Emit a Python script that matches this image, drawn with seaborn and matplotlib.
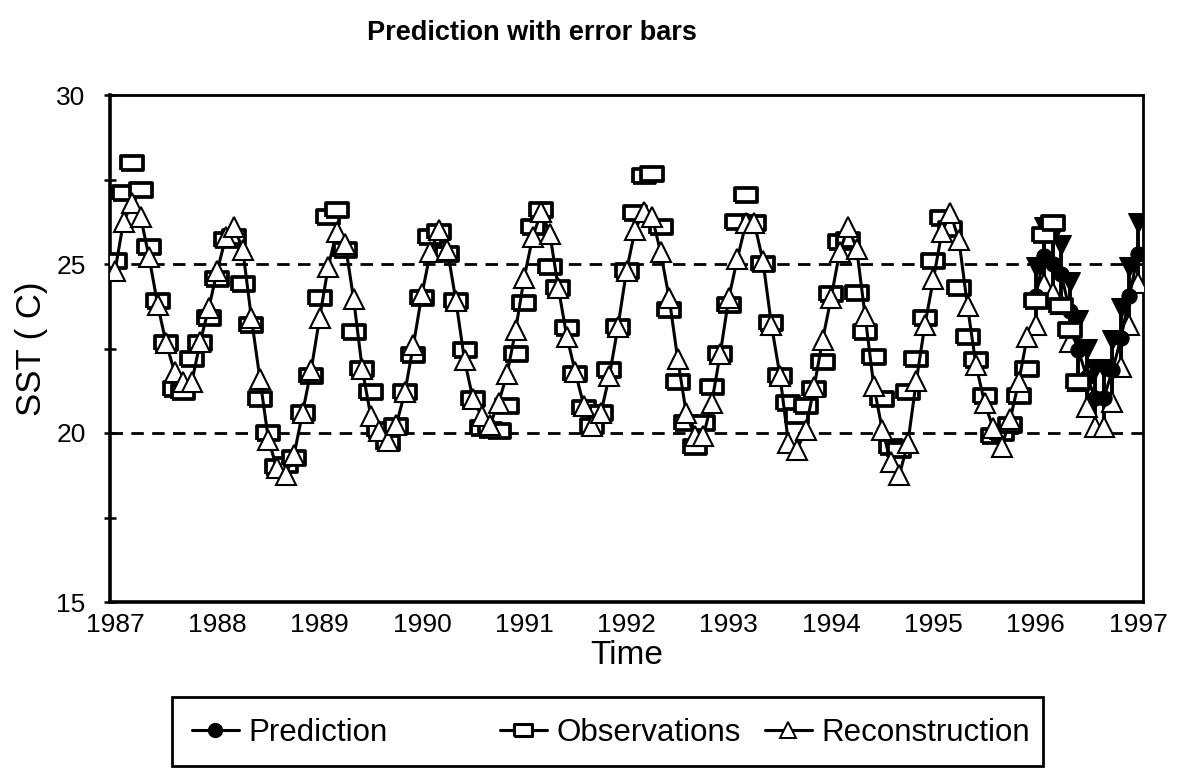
import numpy as np
import matplotlib
matplotlib.use("Agg")
import matplotlib.pyplot as plt
import seaborn as sns
from matplotlib.lines import Line2D
from matplotlib.patches import Rectangle

# ---------------- data (monthly) ----------------
start_year = 1987
pred_start = 1996
year_ticks = [1987, 1988, 1989, 1990, 1991, 1992, 1993, 1994, 1995, 1996, 1997]
y_major = [15, 20, 25, 30]
y_minor = [17.5, 22.5, 27.5]
ref_lines = [20, 25]

obs_values = [
    25.1, 27.1, 28.0, 27.2, 25.5, 23.9, 22.65, 21.3, 21.2, 22.2, 22.65, 23.4,      # 1987
    24.55, 25.7, 25.8, 24.4, 23.2, 21.0, 20.0, 19.0, 19.05, 19.25, 20.6, 21.7,     # 1988
    24.0, 26.4, 26.6, 25.4, 23.0, 21.9, 21.2, 20.1, 19.7, 20.2, 21.2, 22.3,        # 1989
    24.0, 25.8, 25.95, 25.3, 23.9, 22.45, 21.0, 20.15, 20.1, 20.05, 20.8, 22.35,   # 1990
    23.85, 26.1, 26.6, 24.9, 24.3, 23.1, 21.75, 20.75, 20.2, 20.6, 21.85, 23.15,   # 1991
    24.8, 26.5, 27.6, 27.65, 26.1, 23.65, 21.5, 20.3, 19.6, 20.3, 21.35, 22.35,    # 1992
    23.8, 26.25, 27.05, 26.2, 25.0, 23.25, 21.7, 20.9, 20.5, 20.8, 21.3, 22.1,     # 1993
    24.1, 25.65, 25.7, 24.15, 23.0, 22.25, 21.0, 19.6, 19.5, 21.2, 22.2, 23.4,     # 1994
    25.1, 26.35, 26.05, 24.3, 22.85, 22.15, 21.1, 19.9, 20.0, 20.25, 21.1, 21.9,   # 1995
    23.9, 25.85, 26.2, 23.75, 23.05, 21.5,                                         # 1996
]

rec_values = [
    24.8, 26.25, 26.8, 26.4, 25.2, 23.8, 22.65, 21.8, 21.5, 21.5, 22.7, 23.7,      # 1987
    24.8, 25.8, 26.1, 25.4, 23.4, 21.6, 19.8, 18.95, 18.75, 19.35, 20.6, 21.85,    # 1988
    23.4, 24.9, 25.95, 25.6, 23.95, 21.9, 20.5, 20.05, 19.75, 20.25, 21.2, 22.6,   # 1989
    24.1, 25.35, 26.0, 25.4, 23.9, 22.15, 21.0, 20.5, 20.25, 20.9, 21.75, 23.05,   # 1990
    24.6, 25.8, 26.55, 25.9, 24.3, 22.85, 21.8, 20.8, 20.2, 20.6, 21.7, 23.15,     # 1991
    24.8, 26.0, 26.55, 26.4, 25.35, 24.0, 22.2, 20.6, 19.9, 19.9, 20.9, 22.35,     # 1992
    24.0, 25.15, 26.2, 26.2, 25.1, 23.2, 21.7, 19.7, 19.5, 20.1, 21.35, 22.75,     # 1993
    24.0, 25.35, 26.1, 25.45, 23.45, 21.4, 20.1, 19.15, 18.75, 19.7, 21.55, 23.2,  # 1994
    24.55, 25.95, 26.5, 25.7, 23.75, 22.0, 20.9, 20.15, 19.6, 20.4, 21.5, 22.85,   # 1995
]

pred_values = [24.05, 25.25, 25.0, 24.7, 23.6, 22.45, 21.65, 21.05, 21.05, 21.85, 22.8, 24.05, 25.3]
pred_upper = [24.92, 26.1, 25.85, 25.57, 24.48, 23.34, 22.5, 21.9, 21.9, 22.75, 23.7, 24.92, 26.2]
pred_lower = [23.2, 24.4, 24.15, 23.83, 22.7, 21.55, 20.78, 20.19, 20.19, 20.93, 21.96, 23.2, 24.43]

legend_labels = ["Prediction", "Observations", "Reconstruction"]

obs_time = start_year + np.arange(len(obs_values)) / 12.0
rec_time = start_year + np.arange(len(rec_values)) / 12.0
pred_time = pred_start + np.arange(len(pred_values)) / 12.0

# ---------------- style ----------------
sns.set_style("white")
plt.rcParams['font.family'] = ['Liberation Sans', 'DejaVu Sans']
plt.rcParams['text.color'] = 'black'
plt.rcParams['axes.labelcolor'] = 'black'
plt.rcParams['xtick.color'] = 'black'
plt.rcParams['ytick.color'] = 'black'

W, H = 1183, 768
fig = plt.figure(figsize=(W / 100, H / 100), dpi=100)
L, R, T, B = 110, 1143, 95, 602
ax = fig.add_axes([L / W, 1 - B / H, (R - L) / W, (B - T) / H])

rect_marker = [(-1, -0.62), (1, -0.62), (1, 0.62), (-1, 0.62), (-1, -0.62)]

# reference dashed lines
for yv in ref_lines:
    ax.axhline(yv, color='black', lw=2.0, ls=(0, (4.5, 3.0)), zorder=1)

# prediction with error bars
ax.vlines(pred_time, pred_lower, pred_upper, color='black', lw=2.8, zorder=3)
sns.lineplot(x=pred_time, y=pred_upper, ax=ax, color='black', linestyle='none',
             marker='v', markersize=14, markeredgecolor='black', zorder=3)
sns.lineplot(x=pred_time, y=pred_lower, ax=ax, color='black', linestyle='none',
             marker='^', markersize=14, markerfacecolor='white',
             markeredgecolor='black', markeredgewidth=1.5, zorder=3.2)
sns.lineplot(x=pred_time, y=pred_values, ax=ax, color='black', lw=2.2,
             marker='o', markersize=11, markeredgecolor='black', zorder=3.4)

# observations
sns.lineplot(x=obs_time, y=obs_values, ax=ax, color='black', linestyle='none',
             marker=rect_marker, markersize=16.5, markerfacecolor='white',
             markeredgecolor='black', markeredgewidth=2.7, zorder=4)

# reconstruction
sns.lineplot(x=rec_time, y=rec_values, ax=ax, color='black', lw=2.2,
             marker='^', markersize=14, markerfacecolor='white',
             markeredgecolor='black', markeredgewidth=1.5, zorder=5)

# axes
ax.set_xlim(1987 - 5 / 102.3, 1997 + 5 / 102.3)
ax.set_ylim(15, 30)
ax.set_xticks(year_ticks)
ax.set_xticklabels([str(y) for y in year_ticks])
ax.set_yticks(y_major)
ax.set_yticks(y_minor, minor=True)
ax.tick_params(axis='y', which='both', direction='inout', length=9, width=1.8,
               labelsize=19, pad=13, left=True)
ax.tick_params(axis='x', which='both', length=0, labelsize=19, pad=8)
for side in ['left', 'bottom']:
    ax.spines[side].set_linewidth(2.6)
for side in ['top', 'right']:
    ax.spines[side].set_linewidth(2.0)
for s in ax.spines.values():
    s.set_color('black')
ax.set_xlabel("Time", fontsize=24, labelpad=2)
ax.set_ylabel("SST ( C)", fontsize=25, labelpad=6)
ax.grid(False)

fig.text(532 / W, 1 - 33 / H, "Prediction with error bars", ha='center', va='center',
         fontsize=19.5, fontweight='bold')

# legend box
lx0, lx1, ly0, ly1 = 172, 1043, 697, 766
fig.patches.append(Rectangle((lx0 / W, 1 - ly1 / H), (lx1 - lx0) / W, (ly1 - ly0) / H,
                             transform=fig.transFigure, fill=False, edgecolor='black',
                             lw=2.0))
handles = [
    Line2D([], [], color='black', lw=2.2, marker='o', markersize=10),
    Line2D([], [], color='black', lw=2.2, marker=rect_marker, markersize=13,
           markerfacecolor='white', markeredgecolor='black', markeredgewidth=2.2),
    Line2D([], [], color='black', lw=2.2, marker='^', markersize=12,
           markerfacecolor='white', markeredgecolor='black', markeredgewidth=1.4),
]
entry_x = [192, 500, 765]
for h, lab, ex in zip(handles, legend_labels, entry_x):
    fig.legend([h], [lab], loc='center left', bbox_to_anchor=(ex / W, 1 - 733 / H),
               frameon=False, fontsize=22.5, handlelength=1.5, handletextpad=0.3,
               borderpad=0, borderaxespad=0)

fig.savefig("out.png", dpi=100)
